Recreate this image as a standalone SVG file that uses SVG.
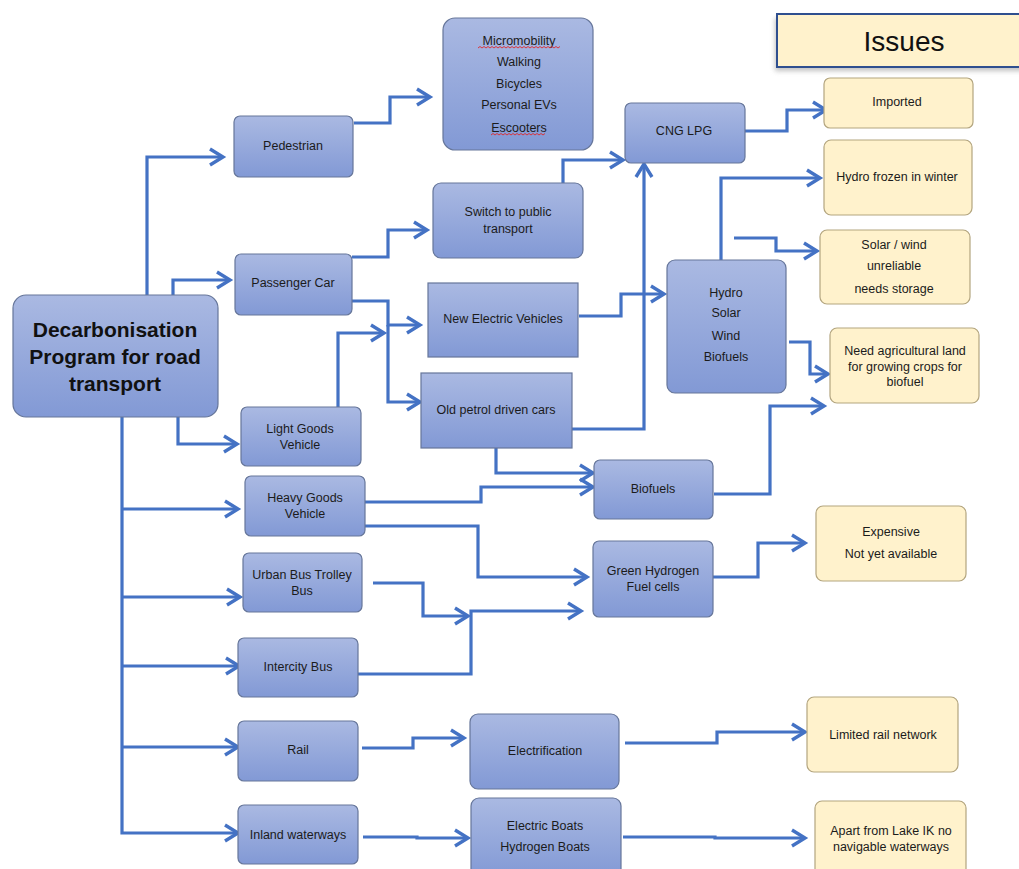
<svg xmlns="http://www.w3.org/2000/svg" width="1019" height="869" viewBox="0 0 1019 869">
<style>
.n{fill:url(#bg);stroke:#66769A;stroke-width:1.2}
.i{fill:#FFF2CC;stroke:#B3A57F;stroke-width:1.2}
.t{font-family:"Liberation Sans",Arial,sans-serif;font-size:12.5px;fill:#1b1b1b;text-anchor:middle;dominant-baseline:central}
.h{font-size:21px;font-weight:bold;fill:#111}
.c path{fill:none;stroke:#4472C4;stroke-width:3.2;stroke-linejoin:miter;marker-end:url(#ah)}
.sq{fill:none;stroke:#E0282A;stroke-width:0.9}
</style>
<defs>
<linearGradient id="bg" x1="0" y1="0" x2="0" y2="1">
<stop offset="0" stop-color="#AAB9E2"/>
<stop offset="1" stop-color="#8299D5"/>
</linearGradient>
<marker id="ah" markerUnits="userSpaceOnUse" markerWidth="20" markerHeight="22" viewBox="0 0 20 22" refX="16" refY="11" orient="auto">
<path d="M3,3 L16,11 L3,19" fill="none" stroke="#4472C4" stroke-width="3.4" stroke-linejoin="miter" stroke-linecap="butt"/>
</marker>
<filter id="sh" x="-10%" y="-30%" width="130%" height="170%">
<feGaussianBlur stdDeviation="2.5"/>
</filter>
</defs>

<g class="c" id="connectors">
<path d="M147,295 V157 H223"/>
<path d="M173,295 V280 H230"/>
<path d="M178,417 V444 H237"/>
<path d="M122,417 V833 H238"/>
<path d="M122,509 H238"/>
<path d="M122,597 H240"/>
<path d="M122,666 H239"/>
<path d="M122,747 H238"/>
<path d="M354,123 H390 V97 H430"/>
<path d="M352,257 H388 V230 H427"/>
<path d="M352,301 H388 V325 H420"/>
<path d="M388,325 V402 H420"/>
<path d="M338,407 V333 H384"/>
<path d="M563,183 V160 H623"/>
<path d="M745,131 H787 V110 H826"/>
<path d="M568,429 H644 V164"/>
<path d="M579,316 H621 V294 H664"/>
<path d="M721,260 V178 H820"/>
<path d="M734,238 H776 V251 H817"/>
<path d="M789,342 H810 V374 H828"/>
<path d="M365,502 H481 V487 H593"/>
<path d="M496,448 V473 H593"/>
<path d="M714,494 H770 V406 H824"/>
<path d="M365,526 H478 V577 H587"/>
<path d="M713,577 H758 V543 H805"/>
<path d="M373,583 H423 V616 H468"/>
<path d="M358,674 H471 V611 H581"/>
<path d="M362,748 H413 V738 H464"/>
<path d="M625,743 H717 V732 H805"/>
<path d="M363,837 H417 V838 H468"/>
<path d="M623,837 H715 V838 H805"/>
</g>

<g id="main">
<rect class="n" x="13" y="295" width="205" height="122" rx="13"/>
<text class="t h" x="115" y="329">Decarbonisation</text>
<text class="t h" x="115" y="356">Program for road</text>
<text class="t h" x="115" y="383">transport</text>
</g>
<g id="pedestrian"><rect class="n" x="234" y="116" width="119" height="61" rx="6"/><text class="t" x="293" y="146">Pedestrian</text></g>
<g id="passenger"><rect class="n" x="235" y="254" width="117" height="61" rx="6"/><text class="t" x="293" y="283">Passenger Car</text></g>
<g id="lgv"><rect class="n" x="241" y="407" width="120" height="59" rx="6"/><text class="t" x="300" y="429">Light Goods</text><text class="t" x="300" y="445">Vehicle</text></g>
<g id="hgv"><rect class="n" x="245" y="476" width="120" height="60" rx="6"/><text class="t" x="305" y="498">Heavy Goods</text><text class="t" x="305" y="514">Vehicle</text></g>
<g id="urban"><rect class="n" x="243" y="553" width="119" height="59" rx="6"/><text class="t" x="302" y="575">Urban Bus Trolley</text><text class="t" x="302" y="591">Bus</text></g>
<g id="intercity"><rect class="n" x="238" y="638" width="120" height="59" rx="6"/><text class="t" x="298" y="667">Intercity Bus</text></g>
<g id="rail"><rect class="n" x="238" y="721" width="120" height="60" rx="6"/><text class="t" x="298" y="750">Rail</text></g>
<g id="inland"><rect class="n" x="238" y="805" width="120" height="59" rx="6"/><text class="t" x="298" y="835">Inland waterways</text></g>

<g id="micromobility">
<rect class="n" x="443" y="18" width="150" height="132" rx="12"/>
<text class="t" x="519" y="41">Micromobility</text>
<text class="t" x="519" y="62">Walking</text>
<text class="t" x="519" y="84">Bicycles</text>
<text class="t" x="519" y="105">Personal EVs</text>
<text class="t" x="519" y="128">Escooters</text>
<path class="sq" d="M478,48 l2,-1.5 l2,1.5 l2,-1.5 l2,1.5 l2,-1.5 l2,1.5 l2,-1.5 l2,1.5 l2,-1.5 l2,1.5 l2,-1.5 l2,1.5 l2,-1.5 l2,1.5 l2,-1.5 l2,1.5 l2,-1.5 l2,1.5 l2,-1.5 l2,1.5 l2,-1.5 l2,1.5 l2,-1.5 l2,1.5 l2,-1.5 l2,1.5 l2,-1.5 l2,1.5 l2,-1.5 l2,1.5 l2,-1.5 l2,1.5 l2,-1.5 l2,1.5 l2,-1.5 l2,1.5 l2,-1.5 l2,1.5 l2,-1.5 l2,1.5 l2,-1.5"/>
<path class="sq" d="M491,135 l2,-1.5 l2,1.5 l2,-1.5 l2,1.5 l2,-1.5 l2,1.5 l2,-1.5 l2,1.5 l2,-1.5 l2,1.5 l2,-1.5 l2,1.5 l2,-1.5 l2,1.5 l2,-1.5 l2,1.5 l2,-1.5 l2,1.5 l2,-1.5 l2,1.5 l2,-1.5 l2,1.5 l2,-1.5 l2,1.5 l2,-1.5 l2,1.5 l2,-1.5"/>
</g>
<g id="switch"><rect class="n" x="433" y="183" width="150" height="75" rx="8"/><text class="t" x="508" y="212">Switch to public</text><text class="t" x="508" y="229">transport</text></g>
<g id="newev"><rect class="n" x="428" y="283" width="150" height="74"/><text class="t" x="503" y="319">New Electric Vehicles</text></g>
<g id="oldpetrol"><rect class="n" x="421" y="373" width="151" height="75"/><text class="t" x="496" y="410">Old petrol driven cars</text></g>
<g id="cng"><rect class="n" x="625" y="103" width="120" height="60" rx="6"/><text class="t" x="684" y="131">CNG LPG</text></g>
<g id="hydro">
<rect class="n" x="667" y="260" width="119" height="133" rx="8"/>
<text class="t" x="726" y="293">Hydro</text>
<text class="t" x="726" y="313">Solar</text>
<text class="t" x="726" y="336">Wind</text>
<text class="t" x="726" y="357">Biofuels</text>
</g>
<g id="biofuels"><rect class="n" x="594" y="460" width="119" height="59" rx="6"/><text class="t" x="653" y="489">Biofuels</text></g>
<g id="greenh2"><rect class="n" x="593" y="541" width="120" height="76" rx="6"/><text class="t" x="653" y="571">Green Hydrogen</text><text class="t" x="653" y="587">Fuel cells</text></g>
<g id="electrification"><rect class="n" x="470" y="714" width="149" height="75" rx="8"/><text class="t" x="545" y="751">Electrification</text></g>
<g id="boats"><rect class="n" x="471" y="798" width="150" height="80" rx="8"/><text class="t" x="545" y="826">Electric Boats</text><text class="t" x="545" y="847">Hydrogen Boats</text></g>

<g id="issues-header">
<rect x="775" y="18" width="260" height="53" fill="#9a9a9a" opacity="0.6" filter="url(#sh)"/>
<rect x="777" y="14" width="260" height="53" fill="#FFF2CC" stroke="#2F4F8F" stroke-width="2"/>
<text class="t" x="904" y="41" style="font-size:28px;fill:#111">Issues</text>
</g>
<g id="imported"><rect class="i" x="824" y="78" width="149" height="50" rx="6"/><text class="t" x="897" y="102">Imported</text></g>
<g id="frozen"><rect class="i" x="824" y="140" width="148" height="75" rx="7"/><text class="t" x="897" y="177">Hydro frozen in winter</text></g>
<g id="solarwind"><rect class="i" x="820" y="230" width="150" height="74" rx="7"/><text class="t" x="894" y="245">Solar / wind</text><text class="t" x="894" y="266">unreliable</text><text class="t" x="894" y="289">needs storage</text></g>
<g id="agri"><rect class="i" x="830" y="328" width="149" height="75" rx="7"/><text class="t" x="905" y="351">Need agricultural land</text><text class="t" x="905" y="367">for growing crops for</text><text class="t" x="905" y="382">biofuel</text></g>
<g id="expensive"><rect class="i" x="816" y="506" width="150" height="75" rx="7"/><text class="t" x="891" y="532">Expensive</text><text class="t" x="891" y="554">Not yet available</text></g>
<g id="limitedrail"><rect class="i" x="807" y="697" width="151" height="75" rx="7"/><text class="t" x="883" y="735">Limited rail network</text></g>
<g id="lake"><rect class="i" x="815" y="801" width="151" height="80" rx="7"/><text class="t" x="891" y="831">Apart from Lake IK no</text><text class="t" x="891" y="847">navigable waterways</text></g>
</svg>
